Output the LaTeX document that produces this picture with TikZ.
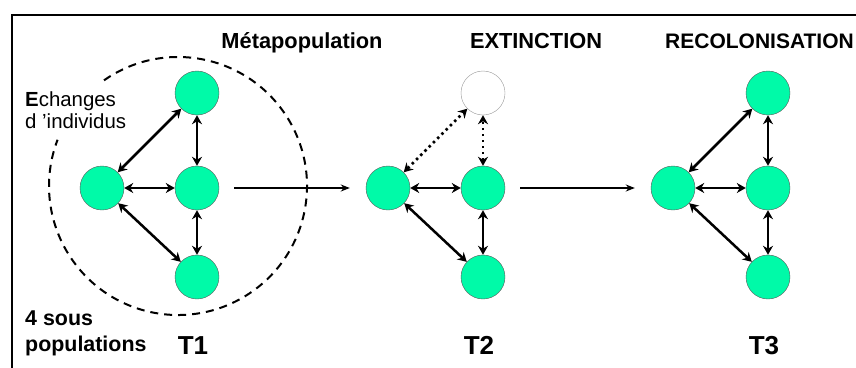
\documentclass[tikz,border=0pt]{standalone}
\usepackage{fontspec}
\setmainfont{Liberation Sans}
\usetikzlibrary{arrows.meta}
\definecolor{menthe}{RGB}{0,250,168}
\begin{document}
\begin{tikzpicture}[x=1pt,y=-1pt,
	pop/.style={circle,draw=black!65,fill=menthe,minimum size=44pt,inner sep=0pt},
	vide/.style={circle,draw=black!40,fill=white,minimum size=44pt,inner sep=0pt},
	lien/.style={{Stealth[length=9pt,width=10pt]}-{Stealth[length=9pt,width=10pt]},line width=2.5pt},
	passage/.style={-{Stealth[length=9pt,width=7pt]},line width=1.5pt,shorten <=15pt,shorten >=16pt},
	titre/.style={font=\bfseries\fontsize{21.8}{24}\selectfont,anchor=base},
	temps/.style={font=\bfseries\fontsize{26}{30}\selectfont,anchor=base},
	legende/.style={align=left,anchor=west,inner sep=0pt}]
	\useasboundingbox (0,0) rectangle (856,367);
	\draw[line width=2pt] (12,380)--(12,15)--(870,15);
	% les trois etapes
	\foreach \o/\t in {0/1,286/2,571/3}{
		\node[pop] (g\t) at (102+\o,188) {};
		\node[pop] (m\t) at (197+\o,188) {};
		\node[pop] (b\t) at (197+\o,277) {};
		\node[temps] (T\t) at (193+\o,354) {T\t};
	}
	\node[pop] (h1) at (197,93) {};
	\node[vide] (h2) at (483,93) {};
	\node[pop] (h3) at (768,93) {};
	\foreach \a/\b in {g/m,g/b,m/b}
	\foreach \t in {1,2,3}
	\draw[lien] (\a\t)--(\b\t);
	\foreach \a in {g,m}{
		\draw[lien] (\a1)--(h1);
		\draw[lien] (\a3)--(h3);
		\draw[lien,dash pattern=on 2.5pt off 3.5pt] (\a2)--(h2);
	}
	\draw[passage] (m1)--(g2);
	\draw[passage] (m2)--(g3);
	% la metapopulation
	\draw[line width=2pt,dash pattern=on 8pt off 6pt] (178,186) ++(-125:129) arc[start angle=-125,end angle=201,radius=129];
	\node[titre] (meta) at (302,48) {Métapopulation};
	\node[titre] (ext) at (536,48) {EXTINCTION};
	\node[titre,anchor=base west,font=\bfseries\fontsize{21}{24}\selectfont,inner sep=0pt] (recol) at (665,48) {RECOLONISATION};
	\node[legende,font=\fontsize{20.4}{22}\selectfont] (ech) at (25,110) {\textbf{E}changes\\d 'individus};
	\node[legende,font=\bfseries\fontsize{21.4}{26}\selectfont] (sous) at (25,333) {4 sous\\populations};
\end{tikzpicture}
\end{document}
